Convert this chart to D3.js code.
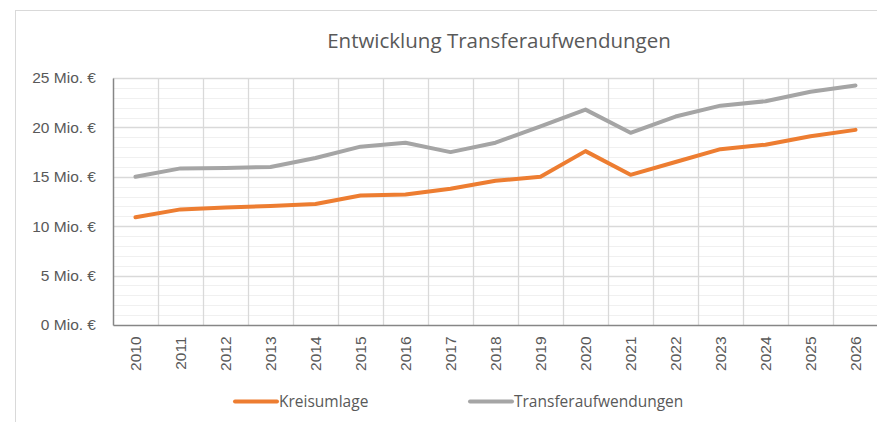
<!DOCTYPE html>
<html><head><meta charset="utf-8">
<script src="https://cdn.jsdelivr.net/npm/d3@7"></script>
<style>
html,body{margin:0;padding:0;background:#fff;}
svg{display:block;font-family:"Open Sans",Lato,sans-serif;}
</style></head>
<body><svg id="c" width="877" height="422"></svg>
<script>
const years = ["2010","2011","2012","2013","2014","2015","2016","2017","2018","2019","2020","2021","2022","2023","2024","2025","2026"];
const kreisumlage = [10.9,11.7,11.9,12.05,12.25,13.1,13.2,13.8,14.6,15.0,17.6,15.2,16.5,17.8,18.25,19.1,19.75];
const transfer = [15.0,15.85,15.9,16.0,16.9,18.05,18.45,17.5,18.45,20.1,21.8,19.45,21.1,22.2,22.65,23.6,24.25];
const yTicks = [0,5,10,15,20,25];
const seriesNames = ["Kreisumlage","Transferaufwendungen"];
const colors = ["#ED7D31","#A5A5A5"];
const title = "Entwicklung Transferaufwendungen";

const svg = d3.select("#c");
// chart frame
svg.append("rect").attr("x",15.5).attr("y",10.5).attr("width",900).attr("height",430)
  .attr("fill","#fff").attr("stroke","#d9d9d9").attr("stroke-width",1);

const x = d3.scaleBand().domain(years).range([113,878]).padding(0);
const y = d3.scaleLinear().domain([0,25]).range([325,78]);

// minor gridlines
const minor = d3.range(0,25.01,1).filter(v=>v%5!==0);
svg.append("g").selectAll("line").data(minor).join("line")
  .attr("x1",113).attr("x2",878).attr("y1",d=>Math.round(y(d))+0.5).attr("y2",d=>Math.round(y(d))+0.5)
  .attr("stroke","#f0f0f0").attr("stroke-width",1);
// major gridlines
svg.append("g").selectAll("line").data(yTicks.slice(1)).join("line")
  .attr("x1",113).attr("x2",878).attr("y1",d=>Math.round(y(d))+0.5).attr("y2",d=>Math.round(y(d))+0.5)
  .attr("stroke","#d9d9d9").attr("stroke-width",1.3);
// vertical gridlines at band boundaries
svg.append("g").selectAll("line").data(years.slice(1)).join("line")
  .attr("x1",d=>Math.round(x(d))+0.5).attr("x2",d=>Math.round(x(d))+0.5)
  .attr("y1",y(25)).attr("y2",y(0))
  .attr("stroke","#d9d9d9").attr("stroke-width",1.3);

// axes
const yAxis = d3.axisLeft(y).tickValues(yTicks).tickSize(0).tickPadding(17)
  .tickFormat(d=>d+" Mio. €");
const gy = svg.append("g").attr("transform","translate(113,0)").call(yAxis);
gy.select(".domain").attr("stroke","#868686").attr("stroke-width",1.5);
gy.selectAll("text").attr("fill","#595959").attr("font-size","15.5px");

const xAxis = d3.axisBottom(x).tickSize(0);
const gx = svg.append("g").attr("transform","translate(0,325)").call(xAxis);
gx.select(".domain").attr("stroke","#868686").attr("stroke-width",1.5);
gx.selectAll("text").attr("fill","#595959").attr("font-size","15.5px")
  .attr("transform","rotate(-90)").attr("text-anchor","end")
  .attr("x",-11.5).attr("y",0).attr("dy","0.35em");

// lines
const line = d3.line().x((d,i)=>x(years[i])+x.bandwidth()/2).y(d=>y(d));
[kreisumlage,transfer].forEach((s,i)=>{
  svg.append("path").datum(s).attr("d",line).attr("fill","none")
    .attr("stroke",colors[i]).attr("stroke-width",4).attr("stroke-linejoin","round").attr("stroke-linecap","round");
});

// title
svg.append("text").attr("x",499).attr("y",48).attr("text-anchor","middle")
  .attr("font-size","20.5px").attr("fill","#595959").text(title);

// legend
const legX = [235,470];
seriesNames.forEach((n,i)=>{
  svg.append("line").attr("x1",legX[i]).attr("x2",legX[i]+42).attr("y1",401.5).attr("y2",401.5)
    .attr("stroke",colors[i]).attr("stroke-width",4).attr("stroke-linecap","round");
  svg.append("text").attr("x",legX[i]+44).attr("y",401.5).attr("dy","0.35em")
    .attr("font-size","15.5px").attr("fill","#595959").text(n);
});
</script></body></html>
